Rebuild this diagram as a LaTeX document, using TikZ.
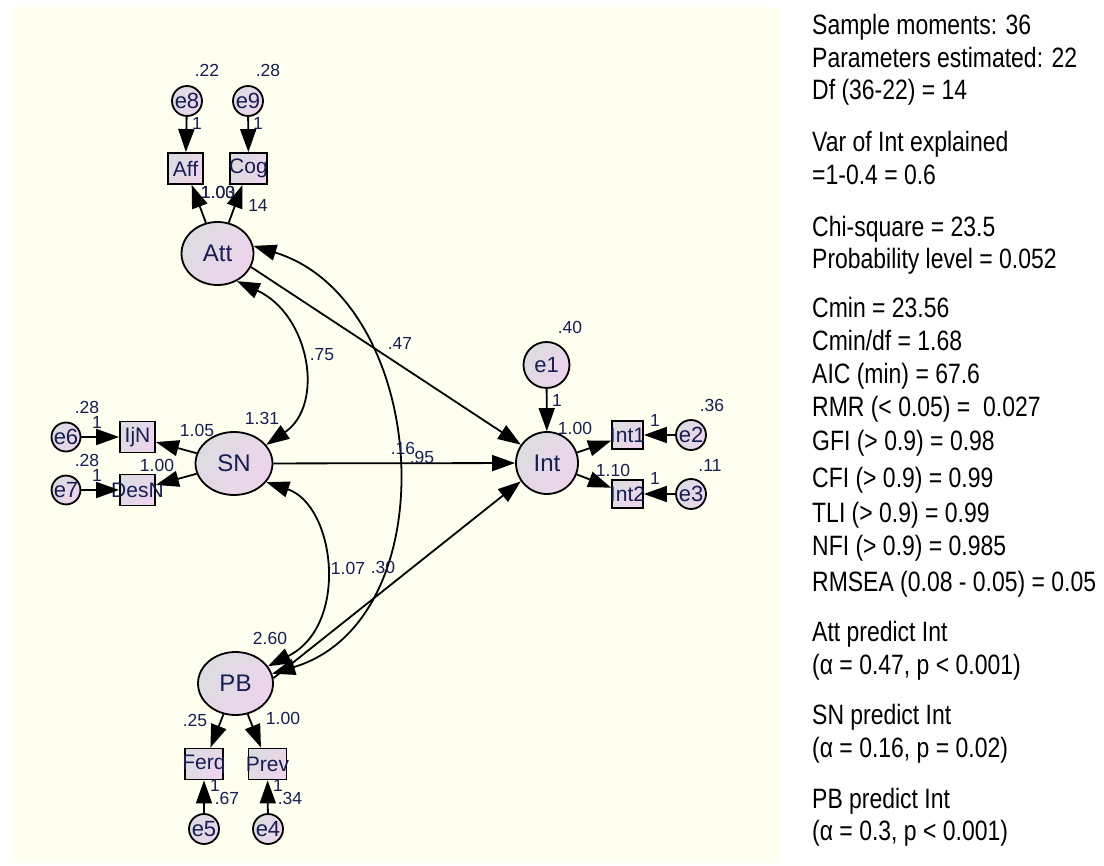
\documentclass[tikz,border=0pt]{standalone}
\usepackage{fontspec}
\setmainfont{Liberation Sans}
\newfontfamily\statfont[FakeStretch=0.82]{Liberation Sans}
\usetikzlibrary{arrows.meta,shapes.geometric}

\definecolor{paper}{RGB}{255,255,240}
\definecolor{ink}{RGB}{22,30,84}
\definecolor{shadeA}{RGB}{220,220,224}
\definecolor{shadeB}{RGB}{238,212,236}

\tikzset{
  every node/.style={text=ink},
  lat/.style={ellipse, draw=black, line width=1.8pt, inner sep=0pt,
    minimum width=72pt, minimum height=63pt,
    left color=shadeA, right color=shadeB, shading angle=60,
    font=\fontsize{24}{28}\selectfont},
  err/.style={circle, draw=black, line width=1.8pt, inner sep=0pt,
    minimum size=30pt, left color=shadeA, right color=shadeB, shading angle=60,
    font=\fontsize{22}{24}\selectfont},
  obs/.style={rectangle, draw=black, line width=1.8pt, inner sep=0pt,
    minimum width=35pt, minimum height=31pt,
    left color=shadeA, right color=shadeB, shading angle=60,
    font=\fontsize{21}{24}\selectfont},
  lab/.style={inner sep=0pt, font=\fontsize{17.5}{20}\selectfont},
  stat/.style={anchor=base west, inner sep=0pt, text=black,
    font=\statfont\fontsize{28}{33}\selectfont},
  path/.style={draw=black, line width=1.8pt, -{Triangle[length=23pt,width=16pt]}},
  cov/.style={draw=black, line width=1.8pt,
    {Triangle[length=23pt,width=16pt]}-{Triangle[length=23pt,width=16pt]}},
}

\begin{document}
\begin{tikzpicture}[x=1pt,y=-1pt]
\useasboundingbox (0,0) rectangle (1104,866);
\fill[paper] (10,7) rectangle (779,863);

% latent variables
\node[lat] (Att) at (217.5,253.5) {Att};
\node[lat, minimum width=77pt] (SN) at (234,463.5) {SN};
\node[lat, minimum width=75pt] (PB) at (235.5,683.5) {PB};
\node[lat, minimum width=62pt, minimum height=62pt] (Int) at (547,463) {Int};

% observed indicators
\node[obs] (Aff) at (185.5,168.5) {\makebox[0pt]{Aff}};
\node[obs, minimum width=37pt] (Cog) at (248.5,168.5) {\makebox[0pt]{Cog}};
\node[obs] (IjN) at (137.5,437) {\makebox[0pt]{IjN}};
\node[obs] (DesN) at (137.5,490) {\makebox[0pt]{DesN}};
\node[obs, minimum width=31pt, minimum height=28pt] (Int1) at (627.5,435) {\makebox[0pt]{Int1}};
\node[obs, minimum width=31pt, minimum height=28pt] (Int2) at (627.5,494) {\makebox[0pt]{Int2}};
\node[obs, minimum width=38pt] (Ferq) at (204,764) {\makebox[0pt]{Ferq}};
\node[obs, minimum width=38pt] (Prev) at (267.5,764) {\makebox[0pt]{Prev}};

% error terms
\node[err] (e8) at (187,101) {e8};
\node[err] (e9) at (248,101) {e9};
\node[err, minimum size=28pt] (e6) at (66,437) {e6};
\node[err, minimum size=28pt] (e7) at (66,490) {e7};
\node[err, minimum size=46pt] (e1) at (546.5,365) {e1};
\node[err] (e2) at (691,435) {e2};
\node[err] (e3) at (691,494) {e3};
\node[err] (e5) at (204,829) {e5};
\node[err] (e4) at (268,829) {e4};

% measurement paths
\draw[path] (e8) -- (Aff);
\draw[path] (e9) -- (Cog);
\draw[path] (Att) -- (Aff);
\draw[path] (Att) -- (Cog);
\draw[path] (e6) -- (IjN);
\draw[path] (e7) -- (DesN);
\draw[path] (SN) -- (IjN);
\draw[path] (SN) -- (DesN);
\draw[path] (e1) -- (Int);
\draw[path] (Int) -- (Int1);
\draw[path] (Int) -- (Int2);
\draw[path] (e2) -- (Int1);
\draw[path] (e3) -- (Int2);
\draw[path] (PB) -- (Ferq);
\draw[path] (PB) -- (Prev);
\draw[path] (e5) -- (Ferq);
\draw[path] (e4) -- (Prev);

% structural paths
\draw[path] (Att.-22) -- (Int.145);
\draw[path] (SN) -- (Int);
\draw[path] (PB.8) -- (Int.215);

% covariances
\draw[cov] (Att.-55) .. controls (310,315) and (325,405) .. (SN.30);
\draw[cov] (SN.-30) .. controls (335,505) and (350,625) .. (PB.28);
\draw[cov] (Att.12) .. controls (430,300) and (450,620) .. (PB.15);

% estimates
\node[lab] (v22) at (207,70) {.22};
\node[lab] (v28a) at (268,70) {.28};
\node[lab] (w8) at (197,123) {1};
\node[lab] (w9) at (258,123) {1};
\node[lab] (lAffa) at (218,192) {1.00};
\node[lab] (lAffb) at (218,192) {1.03};
\node[lab] (lCog) at (258,205) {14};
\node[lab] (v28b) at (87,407) {.28};
\node[lab] (w6) at (97,422) {1};
\node[lab] (v28c) at (87,460) {.28};
\node[lab] (w7) at (97,475) {1};
\node[lab] (lIjN) at (197,430) {1.05};
\node[lab] (lDesN) at (157,465) {1.00};
\node[lab] (vSN) at (262,418) {1.31};
\node[lab] (cAS) at (322,355) {.75};
\node[lab] (bAI) at (400,343) {.47};
\node[lab] (bSI) at (403,448) {.16};
\node[lab] (cAP) at (422,457) {.95};
\node[lab] (cSP) at (348,568) {1.07};
\node[lab] (bPI) at (383,567) {.30};
\node[lab] (vPB) at (270,638) {2.60};
\node[lab] (lFerq) at (195,720) {.25};
\node[lab] (lPrev) at (283,718) {1.00};
\node[lab] (w5) at (215,785) {1};
\node[lab] (v67) at (227,798) {.67};
\node[lab] (w4) at (278,785) {1};
\node[lab] (v34) at (290,798) {.34};
\node[lab] (v40) at (570,327) {.40};
\node[lab] (w1) at (557,400) {1};
\node[lab] (lInt1) at (575,428) {1.00};
\node[lab] (lInt2) at (613,470) {1.10};
\node[lab] (w2) at (655,420) {1};
\node[lab] (w3) at (655,478) {1};
\node[lab] (v36) at (712,405) {.36};
\node[lab] (v11) at (710,465) {.11};

% fit summary
\node[stat] (s1) at (812,35) {Sample moments: 36};
\node[stat] (s2) at (812,68) {Parameters estimated: 22};
\node[stat] (s3) at (812,100) {Df (36-22) = 14};
\node[stat] (s4) at (812,152) {Var of Int explained};
\node[stat] (s5) at (812,185) {=1-0.4 = 0.6};
\node[stat] (s6) at (812,237) {Chi-square = 23.5};
\node[stat] (s7) at (812,269) {Probability level = 0.052};
\node[stat] (s8) at (812,318) {Cmin = 23.56};
\node[stat] (s9) at (812,351) {Cmin/df = 1.68};
\node[stat] (s10) at (812,384) {AIC (min) = 67.6};
\node[stat] (s11) at (812,417) {RMR (< 0.05) =~ 0.027};
\node[stat] (s12) at (812,451) {GFI (> 0.9) = 0.98};
\node[stat] (s13) at (812,488) {CFI (> 0.9) = 0.99};
\node[stat] (s14) at (812,522) {TLI (> 0.9) = 0.99};
\node[stat] (s15) at (812,555) {NFI (> 0.9) = 0.985};
\node[stat] (s16) at (812,591) {RMSEA (0.08 - 0.05) = 0.05};
\node[stat] (s17) at (812,641) {Att predict Int};
\node[stat] (s18) at (812,674) {(α = 0.47, p < 0.001)};
\node[stat] (s19) at (812,724) {SN predict Int};
\node[stat] (s20) at (812,757) {(α = 0.16, p = 0.02)};
\node[stat] (s21) at (812,808) {PB predict Int};
\node[stat] (s22) at (812,840) {(α = 0.3, p < 0.001)};
\end{tikzpicture}
\end{document}
